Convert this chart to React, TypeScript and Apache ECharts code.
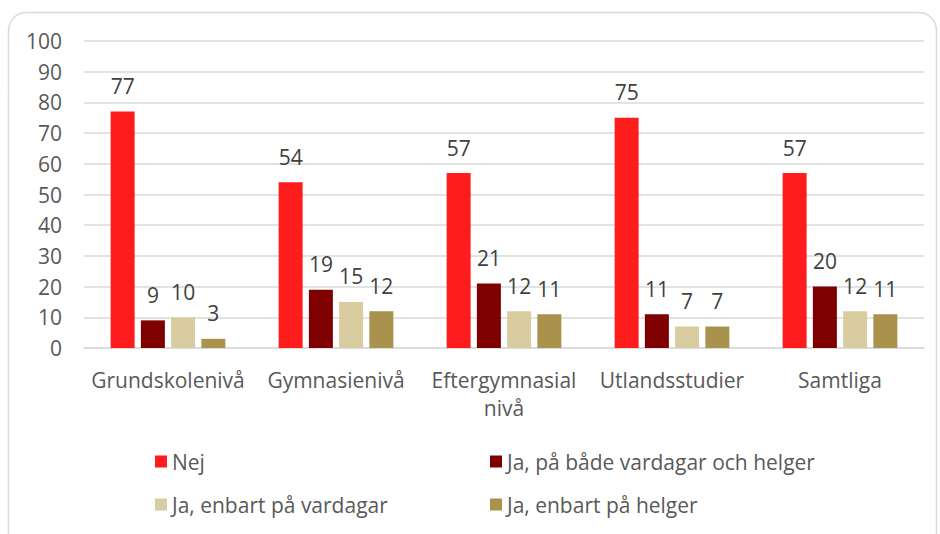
import React, { useEffect, useRef } from "react";
import * as echarts from "echarts";

const categories = ["Grundskolenivå", "Gymnasienivå", "Eftergymnasial\nnivå", "Utlandsstudier", "Samtliga"];
const seriesNames = ["Nej", "Ja, på både vardagar och helger", "Ja, enbart på vardagar", "Ja, enbart på helger"];
const nej = [77, 54, 57, 75, 57];
const bada = [9, 19, 21, 11, 20];
const vardagar = [10, 15, 12, 7, 12];
const helger = [3, 12, 11, 7, 11];
const yTicks = [0, 10, 20, 30, 40, 50, 60, 70, 80, 90, 100];

const colors = ["#FF1C1C", "#7F0000", "#D8CCA0", "#A8924C"];
const FONT = "'Open Sans', 'Noto Sans', sans-serif";
const FS = 21;

export default function App() {
  const ref = useRef<HTMLDivElement>(null);
  useEffect(() => {
    if (!ref.current) return;
    const chart = echarts.init(ref.current, undefined, { renderer: "svg" });
    const values = [nej, bada, vardagar, helger];
    const legendPos = [
      { left: 150, top: 446 },
      { left: 485, top: 446 },
      { left: 150, top: 489 },
      { left: 485, top: 489 },
    ];
    chart.setOption({
      animation: false,
      backgroundColor: "#ffffff",
      textStyle: { fontFamily: FONT },
      graphic: [
        {
          type: "rect",
          shape: { x: 8.5, y: 12.5, width: 928, height: 540, r: 18 },
          style: { fill: "none", stroke: "#d9d9d9", lineWidth: 1.5 },
          silent: true,
          z: -1,
        },
      ],
      legend: seriesNames.map((n, i) => ({
        data: [n],
        left: legendPos[i].left,
        top: legendPos[i].top,
        icon: "rect",
        itemWidth: 12,
        itemHeight: 12,
        itemGap: 6,
        textStyle: { fontSize: FS, color: "#595959", fontFamily: FONT },
      })),
      grid: { left: 84, right: 16, top: 41, bottom: 186, containLabel: false },
      xAxis: {
        type: "category",
        data: categories,
        axisLine: { lineStyle: { color: "#d9d9d9", width: 1.5 } },
        axisTick: { show: false },
        axisLabel: {
          interval: 0,
          hideOverlap: false,
          color: "#595959",
          fontSize: FS,
          margin: 18,
          lineHeight: 28,
          fontFamily: FONT,
        },
      },
      yAxis: {
        type: "value",
        min: yTicks[0],
        max: yTicks[yTicks.length - 1],
        interval: 10,
        axisLine: { show: false },
        axisTick: { show: false },
        splitLine: { lineStyle: { color: "#d9d9d9", width: 1.5 } },
        axisLabel: { color: "#595959", fontSize: FS, margin: 22, fontFamily: FONT },
      },
      series: seriesNames.map((n, i) => ({
        name: n,
        type: "bar",
        data: values[i],
        barWidth: 24,
        barGap: "26%",
        itemStyle: { color: colors[i] },
        label: {
          show: true,
          position: "top",
          distance: 15,
          color: "#404040",
          fontSize: FS,
          fontFamily: FONT,
        },
      })),
    });
    return () => chart.dispose();
  }, []);
  return (
    <div
      ref={ref}
      style={{ position: "fixed", left: 0, top: 0, width: 940, height: 534 }}
    />
  );
}
